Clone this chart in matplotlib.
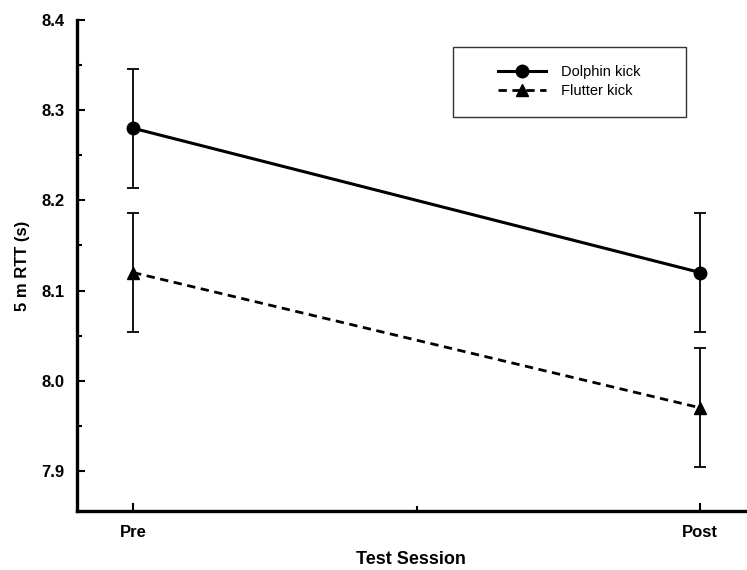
import matplotlib
matplotlib.use("Agg")
import matplotlib.pyplot as plt
from matplotlib.patches import Rectangle
from matplotlib.ticker import MultipleLocator, FixedLocator

plt.rcParams['font.family'] = ['Liberation Sans', 'DejaVu Sans']

sessions = ["Pre", "Post"]
dolphin = [8.28, 8.12]
dolphin_err = [0.066, 0.066]
flutter = [8.12, 7.97]
flutter_err = [0.066, 0.066]

x = list(range(len(sessions)))

fig = plt.figure(figsize=(7.47, 5.70), dpi=100)
ax = fig.add_axes([77/747, 1-511/570, (745-77)/747, (511-20)/570])

ax.errorbar(x, dolphin, yerr=dolphin_err, fmt='none', ecolor='black',
            elinewidth=1.3, capsize=4.5, capthick=1.3, zorder=2)
ax.errorbar(x, flutter, yerr=flutter_err, fmt='none', ecolor='black',
            elinewidth=1.3, capsize=4.5, capthick=1.3, zorder=2)
l1, = ax.plot(x, dolphin, '-', color='black', lw=2.2, marker='o',
              markersize=9, label='Dolphin kick', zorder=3)
l2, = ax.plot(x, flutter, '--', color='black', lw=2.0, marker='^',
              markersize=8, label='Flutter kick', zorder=3, dashes=(3, 2))

ax.set_xlim(-0.099, 1.079)
ax.set_ylim(7.8556, 8.4)

ax.yaxis.set_major_locator(FixedLocator([7.9, 8.0, 8.1, 8.2, 8.3, 8.4]))
ax.yaxis.set_minor_locator(MultipleLocator(0.05))
ax.set_yticklabels(['7.9', '8.0', '8.1', '8.2', '8.3', '8.4'])
ax.set_xticks(x)
ax.set_xticklabels(sessions)
ax.xaxis.set_minor_locator(FixedLocator([0.5]))

for lab in ax.get_xticklabels() + ax.get_yticklabels():
    lab.set_fontweight('bold')
    lab.set_fontsize(12)

ax.tick_params(which='major', direction='in', length=6, width=1.5, pad=9)
ax.tick_params(which='minor', direction='in', length=3.5, width=1.5)
ax.tick_params(axis='x', which='major', pad=10)

for s in ['top', 'right']:
    ax.spines[s].set_visible(False)
for s in ['left', 'bottom']:
    ax.spines[s].set_linewidth(2.4)

ax.set_xlabel('Test Session', fontsize=13, fontweight='bold', labelpad=8)
ax.set_ylabel('5 m RTT (s)', fontsize=12, fontweight='bold', labelpad=8)

leg = ax.legend(handles=[l1, l2], loc='center', bbox_to_anchor=(0.737, 0.874),
                frameon=False, fontsize=10.5, handlelength=3.3,
                handletextpad=1.0, labelspacing=0.35)
ax.add_patch(Rectangle((0.563, 0.802), 0.349, 0.143, transform=ax.transAxes,
                       fill=False, edgecolor='#333333', lw=1.0, zorder=5))

fig.savefig('out.png', dpi=100)
